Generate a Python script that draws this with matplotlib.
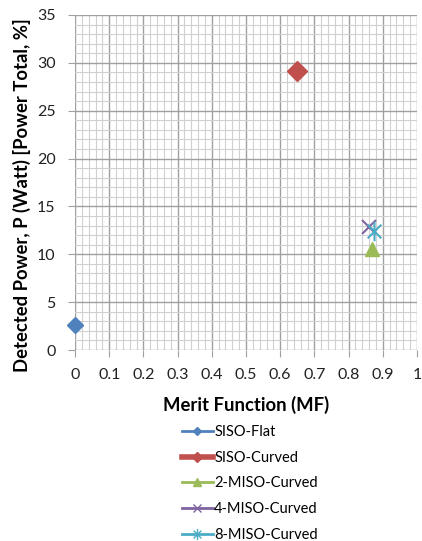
import matplotlib
matplotlib.use("Agg")
import matplotlib.pyplot as plt
from matplotlib.ticker import MultipleLocator, FuncFormatter
from matplotlib.lines import Line2D
from matplotlib.path import Path

plt.rcParams['font.family'] = ['Lato', 'DejaVu Sans']

series = ["SISO-Flat", "SISO-Curved", "2-MISO-Curved", "4-MISO-Curved", "8-MISO-Curved"]
mf = [0.0, 0.65, 0.868, 0.86, 0.874]
power = [2.6, 29.1, 10.6, 12.9, 12.4]

colors = ["#4F81BD", "#C0504D", "#9BBB59", "#8064A2", "#4BACC6"]

star = Path([(-0.7, -0.7), (0.7, 0.7), (-0.7, 0.7), (0.7, -0.7), (0, -1), (0, 1)],
            [Path.MOVETO, Path.LINETO, Path.MOVETO, Path.LINETO, Path.MOVETO, Path.LINETO])
markers = ["D", "D", "^", "x", star]
msizes = [8, 10, 10, 10, 14]
leg_msizes = [4, 5, 6, 6, 8]
mews = [1, 1, 1, 1.5, 1.5]
lws = [2, 4, 2, 2, 2]

fig = plt.figure(figsize=(4.22, 5.41), dpi=100)
ax = fig.add_axes([75/422, 1-350/541, 342/422, 335/541])

handles = []
for i, name in enumerate(series):
    ax.plot([mf[i]], [power[i]], linestyle='none', color=colors[i],
            marker=markers[i], markersize=msizes[i], markeredgewidth=mews[i],
            zorder=5, clip_on=False)
    handles.append(Line2D([], [], color=colors[i], lw=lws[i], marker=markers[i],
                          markersize=leg_msizes[i], markeredgewidth=1, label=name))

ax.set_xlim(0, 1)
ax.set_ylim(0, 35)
ax.xaxis.set_major_locator(MultipleLocator(0.1))
ax.xaxis.set_minor_locator(MultipleLocator(0.02))
ax.yaxis.set_major_locator(MultipleLocator(5))
ax.yaxis.set_minor_locator(MultipleLocator(1))
ax.xaxis.set_major_formatter(FuncFormatter(lambda v, p: ('%.1f' % v).rstrip('0').rstrip('.') if abs(v) > 1e-9 else '0'))
ax.grid(which='major', color='#A0A0A0', lw=1.0)
ax.grid(which='minor', color='#D0D0D0', lw=0.8)
ax.set_axisbelow(True)
for s in ax.spines.values():
    s.set_visible(False)
ax.tick_params(which='major', length=5, color='#A0A0A0', labelsize=11.5, labelcolor='#222222')
ax.tick_params(axis='x', which='major', pad=8)
ax.tick_params(axis='y', which='major', pad=9)
ax.tick_params(which='minor', length=0)

ax.set_xlabel("Merit Function (MF)", fontsize=13.3, fontweight='bold', labelpad=10)
ax.set_ylabel("Detected Power, P (Watt) [Power Total, %]", fontsize=13.3, fontweight='bold', labelpad=4)
ax.yaxis.label.set_y(0.463)

leg = fig.legend(handles=handles, loc='upper left', bbox_to_anchor=(182/422, 1-425/541), frameon=False,
                 fontsize=10.5, handlelength=2.1, labelspacing=0.8, handletextpad=0.1,
                 borderaxespad=0, borderpad=0)

fig.savefig("out.png", dpi=100)
